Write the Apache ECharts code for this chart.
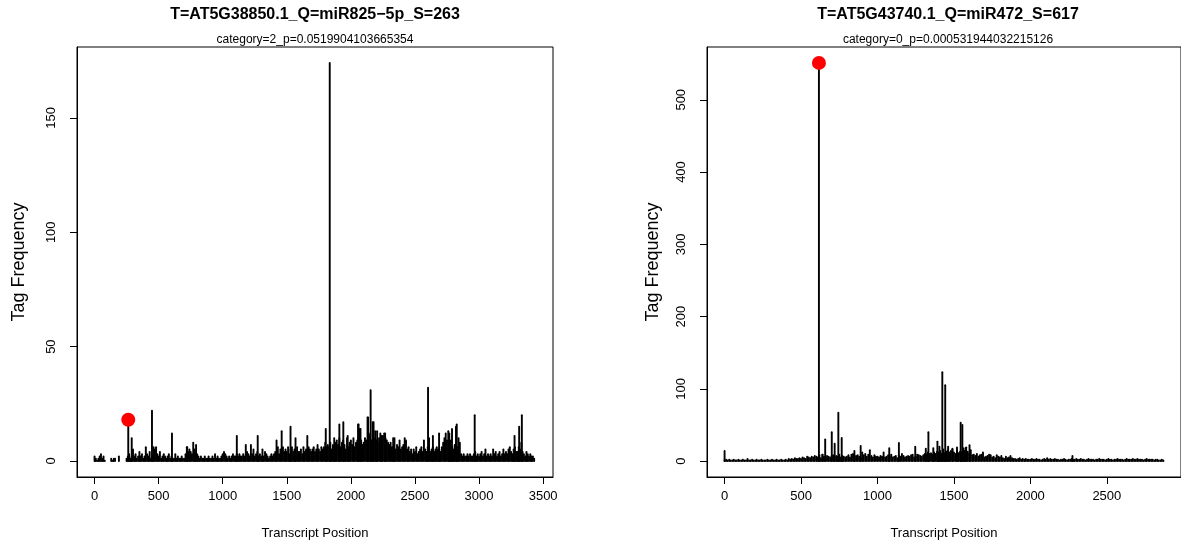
<!DOCTYPE html>
<html>
<head>
<meta charset="utf-8">
<title>Tag frequency along transcripts</title>
<script src="https://cdn.jsdelivr.net/npm/echarts@6/dist/echarts.min.js"></script>
<style>
  html, body { margin: 0; padding: 0; background: #fff; }
  #chart { width: 1181px; height: 546px; }
</style>
</head>
<body>
<div id="chart"></div>
<script>
// --- data -------------------------------------------------------------
// background tag counts, one value per 10 nt starting at position 0 (null = no tag)
const STEP = 10;
const leftBackground = [
  2, 1, 0, 1, 2, 3, 1, 2, 0, null,            // 0
  null, null, null, 1, 0, 1, 1, null, null, 2, // 100
  null, null, null, null, null, 1, 2, 3, 1, 2, // 200
  5, 2, 3, 1, 2, 4, 2, 3, 1, 2,     // 300
  6, 3, 2, 4, 1, 2, 6, 5, 6, 3,     // 400
  2, 4, 1, 2, 3, 2, 1, 2, 3, 1,     // 500
  2, 1, 1, 3, 1, 2, 1, 1, 2, 1,     // 600
  1, 3, 6, 4, 5, 4, 3, 8, 5, 4,     // 700
  3, 2, 1, 2, 1, 1, 2, 1, 1, 2,     // 800
  1, 1, 2, 1, 3, 1, 2, 1, 1, 2,     // 900
  3, 4, 3, 2, 1, 2, 1, 2, 3, 2,     // 1000
  2, 3, 2, 3, 2, 2, 3, 2, 7, 4,     // 1100
  3, 2, 7, 3, 5, 2, 3, 4, 2, 3,     // 1200
  2, 5, 2, 4, 3, 2, 1, 2, 3, 2,     // 1300
  3, 4, 9, 6, 3, 5, 13, 6, 4, 5,    // 1400
  4, 6, 3, 5, 6, 4, 5, 3, 6, 4,     // 1500
  4, 5, 3, 6, 4, 5, 11, 6, 5, 4,    // 1600
  5, 6, 4, 5, 7, 5, 4, 6, 5, 6,     // 1700
  8, 6, 7, 6, 8, 5, 7, 6, 8, 9,     // 1800
  7, 10, 6, 8, 9, 7, 5, 10, 6, 8,   // 1900
  9, 7, 10, 6, 8, 9, 16, 14, 9, 7,  // 2000
  8, 10, 9, 19, 12, 11, 9, 17, 10, 13, // 2100
  9, 8, 10, 12, 9, 11, 12, 10, 9, 8,   // 2200
  7, 8, 6, 6, 10, 5, 7, 6, 9, 5,    // 2300
  6, 7, 10, 9, 5, 6, 4, 5, 3, 5,    // 2400
  4, 6, 3, 4, 5, 6, 4, 9, 5, 4,     // 2500
  6, 10, 4, 5, 6, 4, 5, 6, 5, 5,    // 2600
  4, 6, 8, 10, 12, 9, 13, 8, 9, 6,  // 2700
  5, 7, 15, 6, 10, 8, 3, 2, 3, 2,   // 2800
  2, 3, 2, 3, 2, 2, 3, 4, 2, 3,     // 2900
  2, 3, 4, 2, 3, 5, 2, 3, 2, 3,     // 3000
  2, 5, 3, 4, 2, 3, 4, 2, 3, 5,     // 3100
  3, 4, 3, 5, 6, 4, 3, 5, 6, 4,     // 3200
  4, 6, 5, 8, 4, 3, 2, 4, 3, 2,     // 3300
  3, 2, 2, 1                        // 3400
];
// taller individual spikes: [position, count]
const leftPeaks = [
  [263, 18], [290, 10], [448, 22], [604, 12], [723, 6], [792, 7], [1110, 11],
  [1273, 11], [1529, 15], [1568, 10], [1804, 14], [1835, 174], [1870, 10],
  [1910, 16], [1941, 17], [1975, 11], [2056, 16], [2075, 14], [2134, 19],
  [2154, 31], [2177, 17], [2205, 13], [2240, 11], [2267, 12], [2330, 10],
  [2602, 32], [2640, 11], [2688, 12], [2768, 12], [2789, 14], [2826, 16],
  [2966, 20], [3277, 11], [3313, 15], [3334, 20]
];
const leftSite = [263, 18];
const leftXTicks = [0, 500, 1000, 1500, 2000, 2500, 3000, 3500];
const leftYTicks = [0, 50, 100, 150];

const rightBackground = [
  1, 2, 1, 2, 1, 1, 2, 1, 1, 2,     // 0
  1, 1, 2, 1, 1, 3, 1, 1, 2, 1,     // 100
  1, 2, 1, 1, 2, 1, 1, 1, 2, 1,     // 200
  1, 2, 1, 1, 2, 1, 1, 2, 1, 1,     // 300
  2, 1, 3, 2, 3, 2, 4, 3, 3, 4,     // 400
  3, 5, 4, 3, 6, 5, 4, 6, 5, 7,     // 500
  6, 5, 8, 4, 9, 6, 5, 7, 6, 5,     // 600
  6, 8, 5, 7, 6, 9, 5, 7, 6, 5,     // 700
  6, 8, 5, 9, 10, 6, 7, 8, 6, 5,    // 800
  12, 8, 10, 6, 9, 15, 7, 5, 8, 6,  // 900
  6, 5, 7, 6, 12, 5, 6, 8, 7, 9,    // 1000
  5, 6, 7, 4, 8, 6, 10, 7, 5, 6,    // 1100
  7, 6, 8, 9, 5, 6, 9, 8, 7, 6,     // 1200
  8, 10, 9, 12, 10, 11, 9, 12, 10, 13,  // 1300
  12, 14, 10, 16, 11, 13, 15, 12, 14, 16, // 1400
  12, 10, 14, 11, 13, 12, 18, 14, 19, 13, // 1500
  10, 15, 8, 9, 7, 10, 6, 8, 9, 12, // 1600
  5, 6, 7, 9, 8, 5, 6, 4, 8, 6,     // 1700
  5, 7, 4, 3, 6, 4, 5, 7, 4, 3,     // 1800
  3, 2, 3, 4, 2, 3, 2, 3, 2, 2,     // 1900
  2, 3, 2, 2, 3, 2, 2, 1, 2, 3,     // 2000
  2, 4, 2, 3, 2, 2, 3, 2, 2, 1,     // 2100
  2, 2, 3, 2, 1, 2, 2, 3, 2, 2,     // 2200
  3, 2, 2, 3, 2, 2, 1, 2, 3, 2,     // 2300
  2, 2, 1, 2, 2, 3, 2, 2, 2, 1,     // 2400
  2, 3, 2, 2, 1, 2, 2, 3, 2, 2,     // 2500
  2, 1, 2, 3, 2, 2, 2, 3, 2, 2,     // 2600
  3, 2, 2, 2, 1, 2, 3, 2, 2, 2,     // 2700
  2, 1, 2, 2, 1, 1, 2, 1            // 2800
];
const rightPeaks = [
  [0, 14], [617, 551], [640, 9], [658, 30], [701, 40], [720, 24], [744, 67],
  [766, 32], [849, 14], [890, 21], [1077, 18], [1140, 25], [1247, 20],
  [1316, 17], [1333, 40], [1365, 18], [1392, 27], [1405, 20], [1424, 123],
  [1443, 105], [1462, 20], [1490, 17], [1520, 19], [1544, 53], [1555, 50],
  [1575, 18], [1602, 22], [2275, 7]
];
const rightSite = [617, 551];
const rightXTicks = [0, 500, 1000, 1500, 2000, 2500];
const rightYTicks = [0, 100, 200, 300, 400, 500];

// --- chart ------------------------------------------------------------
const FONT = '"Liberation Sans", Arial, Helvetica, sans-serif';

function toStems(background, peaks) {
  const out = [];
  background.forEach((v, i) => {
    if (v !== null) out.push([i * STEP, v]);
  });
  peaks.forEach(p => out.push(p));
  return out;
}

function stemItem(params, api) {
  const x = api.value(0);
  const v = api.value(1);
  const base = api.coord([x, 0]);
  const top = api.coord([x, v]);
  return {
    type: 'line',
    shape: { x1: base[0], y1: base[1], x2: top[0], y2: v === 0 ? top[1] - 0.4 : top[1] },
    style: { stroke: '#000', lineWidth: 1.9, lineCap: 'round' }
  };
}

function xAxis(idx, min, max, ticks) {
  return {
    type: 'value', gridIndex: idx, min: min, max: max,
    splitLine: { show: false },
    axisLine: { show: true, onZero: false, lineStyle: { color: '#000', width: 1 } },
    axisTick: { show: true, length: 7, customValues: ticks, lineStyle: { color: '#000' } },
    axisLabel: { customValues: ticks, formatter: v => String(v), margin: 13, fontSize: 13,
      color: '#000', fontFamily: FONT },
    name: 'Transcript Position', nameLocation: 'middle', nameGap: 50,
    nameTextStyle: { fontSize: 13, color: '#000', fontFamily: FONT }
  };
}

function yAxis(idx, min, max, ticks, gap) {
  return {
    type: 'value', gridIndex: idx, min: min, max: max,
    splitLine: { show: false },
    axisLine: { show: true, onZero: false, lineStyle: { color: '#000', width: 1 } },
    axisTick: { show: true, length: 7, customValues: ticks, lineStyle: { color: '#000' } },
    axisLabel: { customValues: ticks, formatter: v => String(v), rotate: 90, margin: 19,
      fontSize: 13, color: '#000', fontFamily: FONT },
    name: 'Tag Frequency', nameLocation: 'middle', nameRotate: 90, nameGap: gap,
    nameTextStyle: { fontSize: 18, color: '#000', fontFamily: FONT }
  };
}

function heading(x, title, sub) {
  return [
    { type: 'text', x: x, y: 15,
      style: { text: title, font: 'bold 16px ' + FONT, fill: '#000', textAlign: 'center', textVerticalAlign: 'middle' } },
    { type: 'text', x: x, y: 40,
      style: { text: sub, font: '12px ' + FONT, fill: '#000', textAlign: 'center', textVerticalAlign: 'middle' } }
  ];
}

const chart = echarts.init(document.getElementById('chart'));
chart.setOption({
  animation: false,
  backgroundColor: '#fff',
  graphic: [].concat(
    heading(315, 'T=AT5G38850.1_Q=miR825\u22125p_S=263', 'category=2_p=0.0519904103665354'),
    heading(948, 'T=AT5G43740.1_Q=miR472_S=617', 'category=0_p=0.000531944032215126')
  ),
  grid: [
    { left: 77, top: 47, width: 476, height: 430, show: true, borderColor: '#000', borderWidth: 1 },
    { left: 707, top: 47, width: 482, height: 430, show: true, borderColor: '#000', borderWidth: 1 }
  ],
  xAxis: [
    xAxis(0, -137, 3577, leftXTicks),
    xAxis(1, -115, 2985, rightXTicks)
  ],
  yAxis: [
    yAxis(0, -7, 181, leftYTicks, 49),
    yAxis(1, -22, 573, rightYTicks, 45)
  ],
  series: [
    { type: 'custom', xAxisIndex: 0, yAxisIndex: 0, renderItem: stemItem,
      encode: { x: 0, y: 1 }, data: toStems(leftBackground, leftPeaks) },
    { type: 'custom', xAxisIndex: 1, yAxisIndex: 1, renderItem: stemItem,
      encode: { x: 0, y: 1 }, data: toStems(rightBackground, rightPeaks) },
    { type: 'scatter', xAxisIndex: 0, yAxisIndex: 0, symbolSize: 14, z: 5,
      itemStyle: { color: '#ff0000', opacity: 1 }, data: [leftSite] },
    { type: 'scatter', xAxisIndex: 1, yAxisIndex: 1, symbolSize: 14, z: 5,
      itemStyle: { color: '#ff0000', opacity: 1 }, data: [rightSite] }
  ]
});
window.addEventListener('resize', () => chart.resize());
</script>
</body>
</html>
